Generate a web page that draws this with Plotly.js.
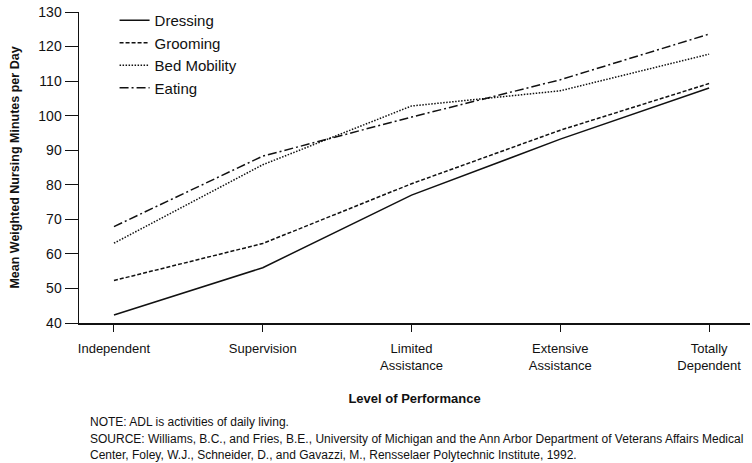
<!DOCTYPE html>
<html>
<head>
<meta charset="utf-8">
<script src="https://cdn.plot.ly/plotly-3.0.1.min.js"></script>
<style>
  html, body { margin: 0; padding: 0; background: #fff; }
  #chart { width: 752px; height: 463px; }
</style>
</head>
<body>
<div id="chart"></div>
<script>
// --- Data ---
const levels = [0, 1, 2, 3, 4];
const levelLabels = ['Independent', 'Supervision', 'Limited<br>Assistance', 'Extensive<br>Assistance', 'Totally<br>Dependent'];

const dressing = [42.3, 56, 77, 93.2, 108];
const grooming = [52.3, 63, 80.3, 95.8, 109.3];
const bedMobility = [63.1, 85.8, 102.8, 107.2, 117.8];
const eating = [67.9, 88.3, 99.6, 110.4, 123.6];

const yTicks = [40, 50, 60, 70, 80, 90, 100, 110, 120, 130];

const FONT = 'Liberation Sans, Arial, sans-serif';

function series(name, values, dash) {
    return {
        x: levels,
        y: values,
        type: 'scatter',
        mode: 'lines',
        name: name,
        line: { color: '#111', width: 1.5, dash: dash }
    };
}

const data = [
    series('Dressing', dressing, 'solid'),
    series('Grooming', grooming, '4px,2px'),
    series('Bed Mobility', bedMobility, '1.5px,1.5px'),
    series('Eating', eating, '9px,3px,2px,3px')
];

const layout = {
    width: 752,
    height: 463,
    paper_bgcolor: '#fff',
    plot_bgcolor: '#fff',
    font: { family: FONT, color: '#111', size: 13 },
    margin: { t: 12, b: 140, l: 79, r: 2 },
    showlegend: true,
    legend: {
        x: 0.053, y: 1.026, xanchor: 'left', yanchor: 'top',
        bgcolor: 'rgba(0,0,0,0)',
        font: { family: FONT, size: 15, color: '#111' },
        tracegroupgap: 0
    },
    xaxis: {
        range: [-0.235, 4.275],
        tickmode: 'array',
        tickvals: levels,
        ticktext: levelLabels,
        ticks: 'outside',
        ticklen: 7,
        tickcolor: '#111',
        ticklabelstandoff: 6,
        showline: true,
        linecolor: '#111',
        linewidth: 1.5,
        showgrid: false,
        zeroline: false,
        tickfont: { family: FONT, size: 13, color: '#111' },
        title: {
            text: '<b>Level of Performance</b>',
            font: { family: FONT, size: 13, color: '#111' },
            standoff: 22
        }
    },
    yaxis: {
        range: [40, 130],
        tickmode: 'array',
        tickvals: yTicks,
        ticks: 'outside',
        ticklen: 13,
        tickcolor: '#111',
        showline: true,
        linecolor: '#111',
        linewidth: 1.5,
        showgrid: false,
        zeroline: false,
        tickfont: { family: FONT, size: 14, color: '#111' },
        title: {
            text: '<b>Mean Weighted Nursing Minutes per Day</b>',
            font: { family: FONT, size: 12.5, color: '#111' },
            standoff: 16
        }
    },
    annotations: [
        {
            xref: 'paper', yref: 'paper',
            x: 0.013, y: -0.318, xanchor: 'left', yanchor: 'middle',
            showarrow: false, align: 'left',
            text: 'NOTE: ADL is activities of daily living.',
            font: { family: FONT, size: 12, color: '#111' }
        },
        {
            xref: 'paper', yref: 'paper',
            x: 0.013, y: -0.398, xanchor: 'left', yanchor: 'middle',
            showarrow: false, align: 'left',
            text: 'SOURCE: Williams, B.C., and Fries, B.E., University of Michigan and the Ann Arbor Department of Veterans Affairs Medical<br>Center, Foley, W.J., Schneider, D., and Gavazzi, M., Rensselaer Polytechnic Institute, 1992.',
            font: { family: FONT, size: 12, color: '#111' }
        }
    ]
};

Plotly.newPlot('chart', data, layout, { displayModeBar: false, staticPlot: true });
</script>
</body>
</html>
